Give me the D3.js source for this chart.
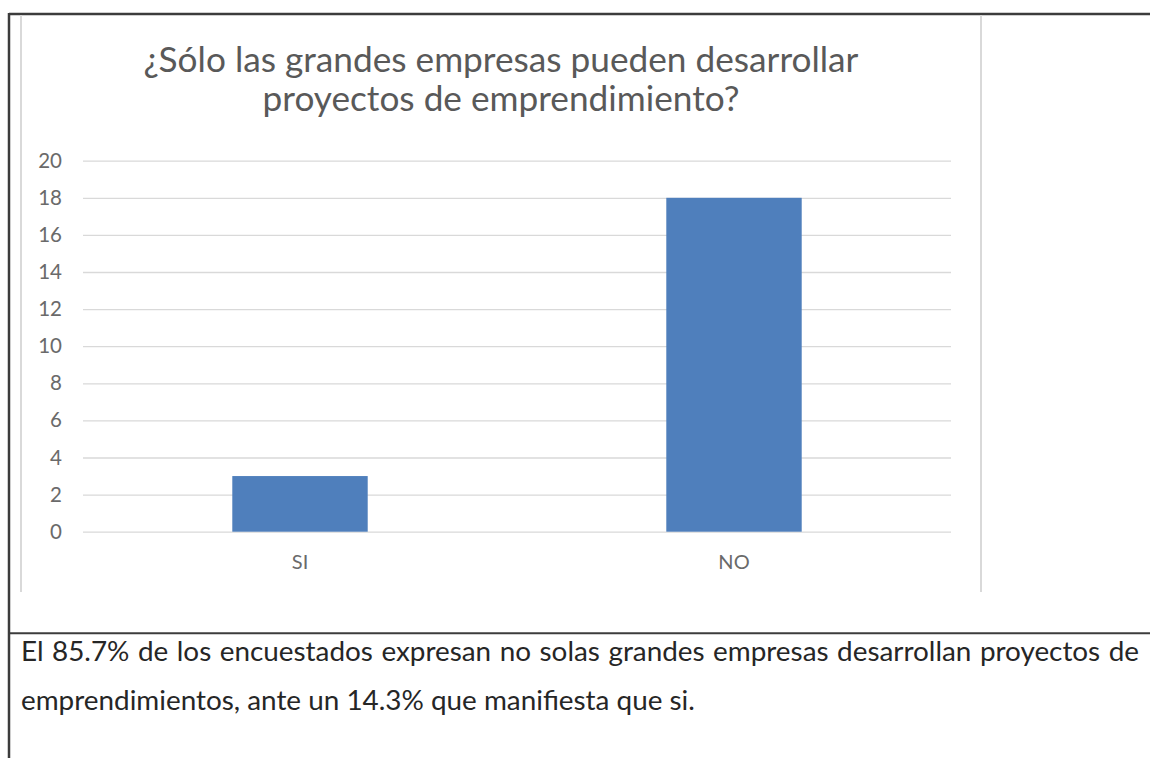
<!DOCTYPE html>
<html>
<head>
<meta charset="utf-8">
<script src="https://cdn.jsdelivr.net/npm/d3@7"></script>
<style>
  html, body { margin: 0; padding: 0; background: #fff; }
  svg { display: block; }
  text { font-family: Lato, "Open Sans", sans-serif; }
</style>
</head>
<body>
<svg id="chart" width="1150" height="758"></svg>
<script>
// ---- data ----
const categories = ["SI", "NO"];
const values = [3, 18];
const yTicks = [0, 2, 4, 6, 8, 10, 12, 14, 16, 18, 20];
const titleLines = ["¿Sólo las grandes empresas pueden desarrollar", "proyectos de emprendimiento?"];
const noteLines = [
  "El 85.7% de los encuestados expresan no solas grandes empresas desarrollan proyectos de",
  "emprendimientos, ante un 14.3% que manifiesta que si."
];

// ---- layout ----
const W = 1150, H = 758;
const plot = { left: 83, right: 951, top: 160.7, bottom: 531.7 };
const svg = d3.select("#chart");

// outer document frame
const frame = svg.append("g");
frame.append("line").attr("x1", 9).attr("x2", W).attr("y1", 14).attr("y2", 14)
  .attr("stroke", "#3c3c3c").attr("stroke-width", 2.5);
frame.append("line").attr("x1", 9).attr("x2", 9).attr("y1", 13).attr("y2", H)
  .attr("stroke", "#3c3c3c").attr("stroke-width", 2.5);
frame.append("line").attr("x1", 9).attr("x2", W).attr("y1", 633.3).attr("y2", 633.3)
  .attr("stroke", "#3c3c3c").attr("stroke-width", 2);

// chart area border (light)
frame.append("line").attr("x1", 21).attr("x2", 21).attr("y1", 15).attr("y2", 592)
  .attr("stroke", "#d9d9d9").attr("stroke-width", 2);
frame.append("line").attr("x1", 981).attr("x2", 981).attr("y1", 15).attr("y2", 592)
  .attr("stroke", "#d9d9d9").attr("stroke-width", 2);

// scales
const x = d3.scaleBand().domain(categories).range([plot.left, plot.right])
  .paddingInner(0.688).paddingOuter(0.344);
const y = d3.scaleLinear().domain([0, 20]).range([plot.bottom, plot.top]);

// y axis with gridlines
const yAxis = svg.append("g").attr("transform", `translate(${plot.left},0)`)
  .call(d3.axisLeft(y).tickValues(yTicks).tickSize(-(plot.right - plot.left)).tickPadding(21));
yAxis.select(".domain").remove();
yAxis.selectAll(".tick line").attr("stroke", "#d9d9d9").attr("stroke-width", 1.3);
yAxis.selectAll(".tick text").attr("fill", "#6a6a6a").attr("font-size", 20.5)
  .attr("font-family", "Lato, sans-serif");

// bars
svg.append("g").selectAll("rect").data(categories).join("rect")
  .attr("x", d => x(d))
  .attr("width", x.bandwidth())
  .attr("y", (d, i) => y(values[i]))
  .attr("height", (d, i) => y(0) - y(values[i]))
  .attr("fill", "#4F7FBC");

// x axis
const xAxis = svg.append("g").attr("transform", `translate(0,${plot.bottom})`)
  .call(d3.axisBottom(x).tickSize(0));
xAxis.select(".domain").remove();
xAxis.selectAll(".tick text").attr("y", 30).attr("dy", "0.35em")
  .attr("fill", "#6a6a6a").attr("font-size", 20).attr("font-family", "Lato, sans-serif");

// title, fitted to reference width
const titleG = svg.append("g");
const tl = titleG.selectAll("text").data(titleLines).join("text")
  .attr("x", 501).attr("y", (d, i) => [72, 111][i])
  .attr("text-anchor", "middle").attr("fill", "#595959").attr("font-size", 28)
  .text(d => d);
const t0w = tl.nodes()[0].getComputedTextLength();
tl.attr("font-size", 28 * 715 / t0w);

// note paragraph
const noteG = svg.append("g");
const probe = noteG.append("text").attr("font-size", 20).text(noteLines[1]);
const fs = 20 * 674 / probe.node().getComputedTextLength();
probe.remove();

// line 1 justified from 21 to 1139
const words = noteLines[0].split(" ");
const wt = noteG.selectAll("text.w").data(words).join("text").attr("class", "w")
  .attr("font-size", fs).attr("fill", "#262626").attr("y", 661).text(d => d);
const widths = wt.nodes().map(n => n.getComputedTextLength());
const total = d3.sum(widths);
const gap = (1139 - 21 - total) / (words.length - 1);
let cx = 21;
const xs = widths.map(w => { const v = cx; cx += w + gap; return v; });
wt.attr("x", (d, i) => xs[i]);

noteG.append("text").attr("x", 21).attr("y", 710).attr("font-size", fs)
  .attr("fill", "#262626").text(noteLines[1]);
</script>
</body>
</html>
